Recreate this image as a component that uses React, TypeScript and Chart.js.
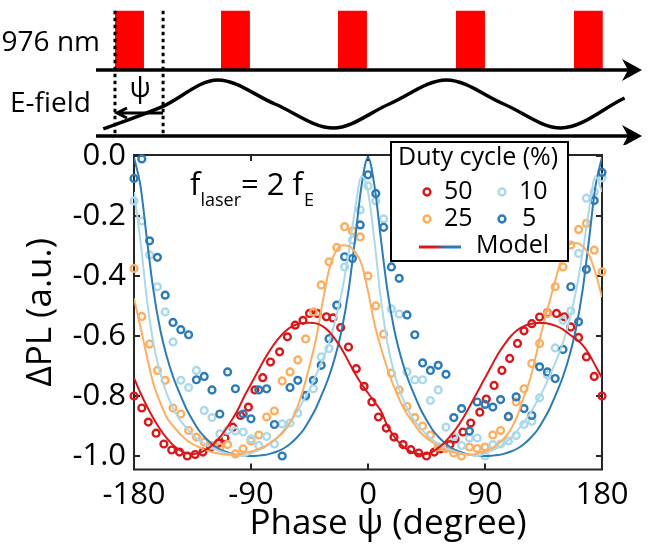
import React, { useEffect, useRef } from "react";
import { Chart, registerables } from "chart.js";

Chart.register(...registerables);

const FONT = "'Open Sans', 'DejaVu Sans', sans-serif";

const RED = "#d7191c";
const ORANGE = "#fdae61";
const LIGHT_BLUE = "#abd9e9";
const BLUE = "#2c7bb6";

// Phase steps (degrees) of the 25 %, 10 % and 5 % duty-cycle scans
const PHASE = [
  -180, -174, -168, -162, -156, -150, -144, -138, -132, -126, -120, -114, -108, -102, -96, -90,
  -84, -78, -72, -66, -60, -54, -48, -42, -36, -30, -24, -18, -12, -6, 0, 6, 12, 18, 24, 30, 36,
  42, 48, 54, 60, 66, 72, 78, 84, 90, 96, 102, 108, 114, 120, 126, 132, 138, 144, 150, 156, 162,
  168, 174, 180,
];

// Phase steps of the 50 % scan
const PHASE_50 = [
  -180, -174, -169, -163, -157, -151, -145, -139, -133, -127, -121, -115, -110, -104, -98, -92,
  -87, -81, -75, -68, -62, -56, -50, -45, -39, -32, -27, -21, -15, -9, -3, 3, 8, 14, 20, 27, 33,
  39, 45, 51, 56, 63, 67, 73, 79, 86, 91, 97, 103, 109, 115, 120, 126, 132, 138, 145, 151, 156,
  162, 168, 174, 180,
];

const PL_50 = [
  -0.8, -0.84, -0.887, -0.924, -0.96, -0.98, -0.987, -1.0, -0.995, -0.987, -0.97, -0.957, -0.94,
  -0.904, -0.865, -0.837, -0.78, -0.739, -0.687, -0.653, -0.603, -0.564, -0.548, -0.525, -0.525,
  -0.536, -0.54, -0.572, -0.637, -0.709, -0.768, -0.82, -0.87, -0.907, -0.937, -0.962, -0.979,
  -0.99, -1.0, -0.987, -0.976, -0.962, -0.943, -0.92, -0.89, -0.854, -0.81, -0.765, -0.715,
  -0.675, -0.625, -0.583, -0.559, -0.537, -0.523, -0.525, -0.536, -0.57, -0.605, -0.67, -0.735,
  -0.8,
];

const PL_25 = [
  -0.375, -0.535, -0.627, -0.715, -0.748, -0.84, -0.86, -0.915, -0.937, -0.954, -0.965, -0.97,
  -0.962, -0.993, -0.976, -0.95, -0.93, -0.87, -0.85, -0.75, -0.72, -0.68, -0.61, -0.52, -0.43,
  -0.353, -0.305, -0.236, -0.25, -0.27, -0.4, -0.5, -0.594, -0.724, -0.78, -0.835, -0.872, -0.9,
  -0.93, -0.97, -0.975, -0.99, -1.0, -0.97, -0.975, -0.97, -0.93, -0.915, -0.87, -0.82, -0.776,
  -0.692, -0.625, -0.525, -0.436, -0.37, -0.297, -0.245, -0.225, -0.314, -0.386,
];

const PL_10 = [
  -0.15, -0.217, -0.33, -0.436, -0.52, -0.62, -0.748, -0.772, -0.715, -0.848, -0.872, -0.926,
  -0.915, -0.917, -0.92, -0.943, -0.965, -0.935, -0.96, -0.893, -0.89, -0.857, -0.803, -0.776,
  -0.67, -0.642, -0.5, -0.37, -0.28, -0.18, -0.1, -0.15, -0.21, -0.51, -0.527, -0.72, -0.746,
  -0.746, -0.815, -0.78, -0.904, -0.935, -0.965, -0.94, -0.94, -1.0, -0.962, -0.96, -0.95,
  -0.932, -0.895, -0.884, -0.806, -0.73, -0.64, -0.548, -0.517, -0.325, -0.141, -0.12, -0.073,
];

const PL_5 = [
  -0.075, -0.01, -0.283, -0.338, -0.464, -0.555, -0.579, -0.596, -0.746, -0.735, -0.78, -0.86,
  -0.72, -0.776, -0.86, -0.876, -0.78, -0.776, -0.895, -1.0, -0.772, -0.748, -0.798, -0.748,
  -0.698, -0.609, -0.497, -0.336, -0.342, -0.23, -0.063, -0.125, -0.238, -0.37, -0.408, -0.53,
  -0.596, -0.69, -0.715, -0.698, -0.728, -0.872, -0.842, -0.917, -0.82, -0.828, -0.837, -0.812,
  -0.868, -0.803, -0.842, -0.865, -0.703, -0.72, -0.742, -0.645, -0.436, -0.553, -0.378, -0.149,
  -0.055,
];

// Model curves, sampled every 5 degrees
const MODEL_PHASE = [
  -180, -175, -170, -165, -160, -155, -150, -145, -140, -135, -130, -125, -120, -115, -110, -105,
  -100, -95, -90, -85, -80, -75, -70, -65, -60, -55, -50, -45, -40, -35, -30, -25, -20, -15, -10,
  -5, 0, 5, 10, 15, 20, 25, 30, 35, 40, 45, 50, 55, 60, 65, 70, 75, 80, 85, 90, 95, 100, 105, 110,
  115, 120, 125, 130, 135, 140, 145, 150, 155, 160, 165, 170, 175, 180,
];

const MODEL_50 = [
  -0.74, -0.79, -0.835, -0.875, -0.91, -0.94, -0.963, -0.98, -0.99, -0.993, -0.99, -0.98, -0.965,
  -0.943, -0.915, -0.882, -0.845, -0.8, -0.76, -0.72, -0.68, -0.645, -0.615, -0.59, -0.572,
  -0.562, -0.557, -0.556, -0.558, -0.567, -0.585, -0.612, -0.645, -0.685, -0.725, -0.76, -0.79,
  -0.82, -0.85, -0.9, -0.935, -0.96, -0.978, -0.989, -0.994, -0.993, -0.985, -0.97, -0.95,
  -0.925, -0.895, -0.86, -0.82, -0.78, -0.74, -0.7, -0.66, -0.628, -0.6, -0.58, -0.567, -0.56,
  -0.557, -0.557, -0.56, -0.567, -0.578, -0.595, -0.61, -0.63, -0.66, -0.7, -0.74,
];

const MODEL_25 = [
  -0.475, -0.57, -0.67, -0.76, -0.82, -0.87, -0.9, -0.925, -0.945, -0.96, -0.97, -0.98, -0.987,
  -0.992, -0.995, -0.996, -0.995, -0.99, -0.985, -0.978, -0.97, -0.955, -0.94, -0.92, -0.89,
  -0.845, -0.78, -0.7, -0.61, -0.49, -0.38, -0.32, -0.298, -0.3, -0.32, -0.36, -0.45, -0.56,
  -0.64, -0.71, -0.77, -0.82, -0.86, -0.89, -0.92, -0.94, -0.955, -0.97, -0.98, -0.987, -0.992,
  -0.995, -0.995, -0.99, -0.985, -0.975, -0.96, -0.94, -0.91, -0.865, -0.8, -0.74, -0.65, -0.56,
  -0.48, -0.4, -0.33, -0.295, -0.29, -0.3, -0.33, -0.39, -0.47,
];

const MODEL_10 = [
  -0.12, -0.285, -0.48, -0.625, -0.72, -0.79, -0.84, -0.878, -0.905, -0.93, -0.947, -0.962,
  -0.973, -0.982, -0.989, -0.994, -0.997, -1.0, -0.991, -0.982, -0.972, -0.958, -0.939, -0.915,
  -0.886, -0.856, -0.818, -0.778, -0.73, -0.68, -0.622, -0.546, -0.45, -0.326, -0.18, -0.068,
  -0.12, -0.285, -0.48, -0.625, -0.72, -0.79, -0.84, -0.878, -0.905, -0.93, -0.947, -0.962,
  -0.973, -0.982, -0.989, -0.994, -0.997, -1.0, -0.991, -0.982, -0.972, -0.958, -0.939, -0.915,
  -0.886, -0.856, -0.818, -0.778, -0.73, -0.68, -0.622, -0.546, -0.45, -0.326, -0.18, -0.068,
  -0.12,
];

const MODEL_5 = [
  -0.005, -0.1, -0.28, -0.45, -0.575, -0.665, -0.735, -0.79, -0.84, -0.88, -0.915, -0.94, -0.96,
  -0.975, -0.985, -0.992, -0.997, -0.999, -1.0, -0.999, -0.997, -0.992, -0.985, -0.975, -0.96,
  -0.94, -0.915, -0.88, -0.84, -0.79, -0.735, -0.665, -0.575, -0.45, -0.28, -0.1, -0.005, -0.1,
  -0.28, -0.45, -0.575, -0.665, -0.735, -0.79, -0.84, -0.88, -0.915, -0.94, -0.96, -0.975,
  -0.985, -0.992, -0.997, -0.999, -1.0, -0.999, -0.997, -0.992, -0.985, -0.975, -0.96, -0.94,
  -0.915, -0.88, -0.84, -0.79, -0.735, -0.665, -0.575, -0.45, -0.28, -0.1, -0.005,
];

const X_TICKS = [-180, -90, 0, 90, 180];
const Y_TICKS = [0, -0.2, -0.4, -0.6, -0.8, -1.0];
const X_TITLE = "Phase ψ (degree)";
const Y_TITLE = "ΔPL (a.u.)";

// Timing sketch: 976 nm pulse train (on/off) and the driving E-field
const PULSE_START = [-195, -113.5, -23.5, 67.3, 158];
const PULSE_WIDTH = 22.3;
const FIELD_PHASE = [-204, -159, -116, -72, -27, 16, 60, 104, 148, 197];
const FIELD_AMP = [-1.04, -0.12, 1, 0, -1, 0, 1, 0, -1, 0.25];
const PSI_FROM = -158;
const PSI_TO = -195;
const FIELD_AXIS = -1.33;

const pts = (xs: number[], ys: number[]) => xs.map((x, i) => ({ x, y: ys[i] }));

function arrowHead(ctx: CanvasRenderingContext2D, x: number, y: number) {
  ctx.beginPath();
  ctx.moveTo(x, y);
  ctx.lineTo(x - 20, y - 11);
  ctx.lineTo(x - 14, y);
  ctx.lineTo(x - 20, y + 11);
  ctx.closePath();
  ctx.fill();
}

const sketchPlugin = {
  id: "sketch",
  afterDatasetsDraw(chart: any) {
    const { ctx, chartArea, scales } = chart;
    const xs = scales.x;
    const yl = scales.yLaser;
    const yf = scales.yField;
    const left = chartArea.left;
    const right = chartArea.right;
    const yTop = yl.getPixelForValue(0);
    const yBot = yf.getPixelForValue(FIELD_AXIS);
    ctx.save();
    ctx.strokeStyle = "#000";
    ctx.fillStyle = "#000";
    ctx.lineWidth = 3.5;
    for (const y of [yTop, yBot]) {
      ctx.beginPath();
      ctx.moveTo(left, y);
      ctx.lineTo(right - 12, y);
      ctx.stroke();
      arrowHead(ctx, right, y);
    }
    // dotted markers delimiting the phase delay
    ctx.setLineDash([3.5, 3.5]);
    ctx.lineWidth = 3;
    for (const p of [PSI_TO, PSI_FROM]) {
      const x = xs.getPixelForValue(p);
      ctx.beginPath();
      ctx.moveTo(x, yl.getPixelForValue(1));
      ctx.lineTo(x, yBot + 1);
      ctx.stroke();
    }
    ctx.setLineDash([]);
    // psi arrow
    const ay = yf.getPixelForValue(-0.375);
    const x0 = xs.getPixelForValue(PSI_FROM);
    const x1 = xs.getPixelForValue(PSI_TO) + 2;
    ctx.lineWidth = 3;
    ctx.beginPath();
    ctx.moveTo(x0, ay);
    ctx.lineTo(x1, ay);
    ctx.moveTo(x1 + 10, ay - 5);
    ctx.lineTo(x1, ay);
    ctx.lineTo(x1 + 10, ay + 5);
    ctx.stroke();
    ctx.font = `28px ${FONT}`;
    ctx.textAlign = "center";
    ctx.textBaseline = "middle";
    ctx.fillText("ψ", (x0 + x1) / 2, yf.getPixelForValue(0.62));
    ctx.textAlign = "right";
    ctx.fillText("976 nm", left + 4, yl.getPixelForValue(0.45));
    ctx.fillText("E-field", left - 5, yf.getPixelForValue(0));
    ctx.restore();
  },
};

const frameTicks = {
  id: "frameTicks",
  beforeDatasetsDraw(chart: any) {
    const { ctx, chartArea: a, scales } = chart;
    const tl = 6;
    ctx.save();
    ctx.strokeStyle = "#262626";
    ctx.lineWidth = 2;
    ctx.strokeRect(a.left, a.top, a.right - a.left, a.bottom - a.top);
    ctx.beginPath();
    for (const v of X_TICKS) {
      const x = scales.x.getPixelForValue(v);
      ctx.moveTo(x, a.bottom);
      ctx.lineTo(x, a.bottom - tl);
      ctx.moveTo(x, a.top);
      ctx.lineTo(x, a.top + tl);
    }
    for (const v of Y_TICKS) {
      const y = scales.y.getPixelForValue(v);
      ctx.moveTo(a.left, y);
      ctx.lineTo(a.left + tl, y);
      ctx.moveTo(a.right, y);
      ctx.lineTo(a.right - tl, y);
    }
    ctx.stroke();

    // axis titles
    ctx.fillStyle = "#000";
    ctx.font = `35px ${FONT}`;
    ctx.textAlign = "center";
    ctx.textBaseline = "alphabetic";
    ctx.fillText(X_TITLE, (a.left + a.right) / 2 + 20, a.bottom + 64);
    ctx.translate(41, (a.top + a.bottom) / 2);
    ctx.rotate(-Math.PI / 2);
    ctx.textBaseline = "middle";
    ctx.fillText(Y_TITLE, 0, 0);
    ctx.restore();
  },
};

function marker(ctx: CanvasRenderingContext2D, x: number, y: number, color: string) {
  ctx.beginPath();
  ctx.arc(x, y, 3.4, 0, Math.PI * 2);
  ctx.strokeStyle = color;
  ctx.lineWidth = 2.5;
  ctx.stroke();
}

const legendBox = {
  id: "legendBox",
  afterDraw(chart: any) {
    const { ctx } = chart;
    const bx = 391;
    const by = 142;
    const bw = 177;
    const bh = 119;
    ctx.save();
    ctx.fillStyle = "#fff";
    ctx.fillRect(bx, by, bw, bh);
    ctx.strokeStyle = "#000";
    ctx.lineWidth = 2;
    ctx.strokeRect(bx, by, bw, bh);
    ctx.fillStyle = "#000";
    ctx.textBaseline = "middle";
    ctx.textAlign = "left";
    ctx.font = `25px ${FONT}`;
    ctx.fillText("Duty cycle (%)", bx + 7, by + 16);
    const rows: [string, string, number, number][] = [
      ["50", RED, 0, 0],
      ["10", LIGHT_BLUE, 1, 0],
      ["25", ORANGE, 0, 1],
      ["5", BLUE, 1, 1],
    ];
    for (const [label, color, col, row] of rows) {
      const mx = bx + 36 + col * 75;
      const my = by + 50 + row * 27;
      marker(ctx, mx, my, color);
      ctx.fillStyle = "#000";
      ctx.fillText(label, mx + 17 + (label.length === 1 ? 3 : 0), my);
    }
    const ly = by + 105;
    const grad = ctx.createLinearGradient(bx + 28, 0, bx + 70, 0);
    grad.addColorStop(0, RED);
    grad.addColorStop(0.35, RED);
    grad.addColorStop(0.65, BLUE);
    grad.addColorStop(1, BLUE);
    ctx.strokeStyle = grad;
    ctx.lineWidth = 3;
    ctx.beginPath();
    ctx.moveTo(bx + 28, ly);
    ctx.lineTo(bx + 70, ly);
    ctx.stroke();
    ctx.fillStyle = "#000";
    ctx.fillText("Model", bx + 85, ly - 1);

    // frequency relation
    let x = 190;
    const base = 195;
    ctx.textBaseline = "alphabetic";
    ctx.font = `31px ${FONT}`;
    ctx.fillText("f", x, base);
    x += ctx.measureText("f").width;
    ctx.font = `18px ${FONT}`;
    ctx.fillText("laser", x, base + 11);
    x += ctx.measureText("laser").width;
    ctx.font = `31px ${FONT}`;
    ctx.fillText("= 2 f", x, base);
    x += ctx.measureText("= 2 f").width + 1;
    ctx.font = `18px ${FONT}`;
    ctx.fillText("E", x, base + 11);
    ctx.restore();
  },
};

export default function App() {
  const topRef = useRef<HTMLCanvasElement>(null);
  const mainRef = useRef<HTMLCanvasElement>(null);

  useEffect(() => {
    const pulses = PULSE_START.map((s) => ({
      type: "line" as const,
      data: [
        { x: s, y: 0 },
        { x: s, y: 1 },
        { x: s + PULSE_WIDTH, y: 1 },
        { x: s + PULSE_WIDTH, y: 0 },
      ],
      yAxisID: "yLaser",
      borderColor: "rgba(0,0,0,0)",
      borderWidth: 0,
      backgroundColor: "#ff0000",
      fill: "origin",
      pointRadius: 0,
      tension: 0,
    }));

    const top = new Chart(topRef.current!, {
      type: "line",
      data: {
        datasets: [
          ...pulses,
          {
            data: pts(FIELD_PHASE, FIELD_AMP),
            yAxisID: "yField",
            borderColor: "#000",
            borderWidth: 3.5,
            pointRadius: 0,
            cubicInterpolationMode: "monotone",
            fill: false,
          },
        ] as any,
      },
      options: {
        responsive: false,
        animation: false,
        events: [],
        layout: { padding: { left: 96, right: 8, top: 0, bottom: 0 } },
        plugins: { legend: { display: false }, tooltip: { enabled: false } },
        scales: {
          x: { type: "linear", min: -209.6, max: 210.4, display: false },
          yLaser: { type: "linear", min: -1.265, max: 1.18, display: false },
          yField: { type: "linear", min: -1.708, max: 4.333, display: false },
        },
      },
      plugins: [sketchPlugin],
    });

    const scatter = (ys: number[], xs: number[], color: string, order: number) => ({
      type: "scatter" as const,
      data: pts(xs, ys),
      borderColor: color,
      backgroundColor: "rgba(0,0,0,0)",
      pointRadius: 3.4,
      pointBorderWidth: 2.4,
      showLine: false,
      clip: false,
      order,
    });
    const model = (ys: number[], color: string) => ({
      type: "line" as const,
      data: pts(MODEL_PHASE, ys),
      borderColor: color,
      borderWidth: 2,
      pointRadius: 0,
      cubicInterpolationMode: "monotone",
      fill: false,
      order: 0,
    });

    const tickFont = { family: FONT, size: 31 };
    const main = new Chart(mainRef.current!, {
      type: "scatter",
      data: {
        datasets: [
          scatter(PL_50, PHASE_50, RED, 4),
          scatter(PL_25, PHASE, ORANGE, 3),
          scatter(PL_10, PHASE, LIGHT_BLUE, 2),
          scatter(PL_5, PHASE, BLUE, 1),
          model(MODEL_50, RED),
          model(MODEL_25, ORANGE),
          model(MODEL_10, LIGHT_BLUE),
          model(MODEL_5, BLUE),
        ] as any,
      },
      options: {
        responsive: false,
        animation: false,
        events: [],
        layout: { padding: { left: 0, right: 48, top: 155, bottom: 0 } },
        plugins: { legend: { display: false }, tooltip: { enabled: false } },
        scales: {
          x: {
            type: "linear",
            min: -180,
            max: 180,
            afterBuildTicks: (s: any) => {
              s.ticks = X_TICKS.map((value) => ({ value }));
            },
            afterFit: (s: any) => {
              s.height = 80.5;
            },
            grid: { display: false, drawTicks: false },
            border: { display: false },
            ticks: { padding: 7, color: "#000", font: tickFont, maxRotation: 0, autoSkip: false },
          },
          y: {
            type: "linear",
            min: -1.045,
            max: 0.003,
            afterBuildTicks: (s: any) => {
              s.ticks = Y_TICKS.map((value) => ({ value }));
            },
            afterFit: (s: any) => {
              s.width = 134;
            },
            grid: { display: false, drawTicks: false },
            border: { display: false },
            ticks: {
              padding: 8,
              color: "#000",
              font: tickFont,
              callback: (v: any) => Number(v).toFixed(1),
            },
          },
        },
      },
      plugins: [frameTicks, legendBox],
    });

    return () => {
      top.destroy();
      main.destroy();
    };
  }, []);

  return (
    <div style={{ position: "absolute", left: 0, top: 0, width: 650, height: 550, background: "#fff" }}>
      <canvas ref={mainRef} width={650} height={550} style={{ position: "absolute", left: 0, top: 0 }} />
      <canvas ref={topRef} width={650} height={145} style={{ position: "absolute", left: 0, top: 0 }} />
    </div>
  );
}
